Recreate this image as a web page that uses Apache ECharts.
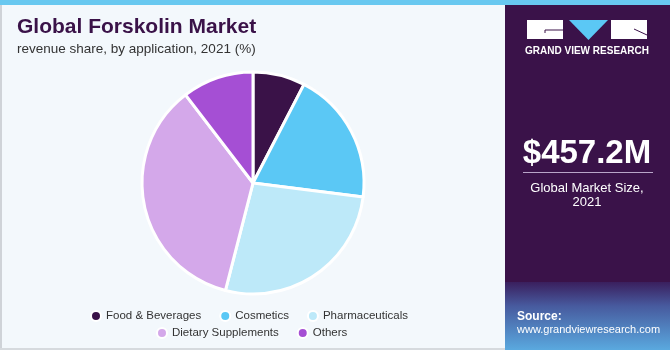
<!DOCTYPE html>
<html><head><meta charset="utf-8">
<script src="https://cdn.jsdelivr.net/npm/echarts@6/dist/echarts.min.js"></script>
<style>html,body{margin:0;padding:0;}#c{width:670px;height:350px;}</style>
</head><body><div id="c"></div>
<script>
var categories = ['Food & Beverages', 'Cosmetics', 'Pharmaceuticals', 'Dietary Supplements', 'Others'];
var shares = [7.6, 19.4, 27.0, 35.6, 10.4];
var colors = ['#3a1248', '#5bc8f5', '#bde9f9', '#d4a8ea', '#a54fd4'];
var legendRow1 = ['Food & Beverages', 'Cosmetics', 'Pharmaceuticals'];
var legendRow2 = ['Dietary Supplements', 'Others'];
var titleText = 'Global Forskolin Market';
var subtitleText = 'revenue share, by application, 2021 (%)';
var marketSize = '$457.2M';

var chart = echarts.init(document.getElementById('c'));
var data = categories.map(function (c, i) { return { name: c, value: shares[i], itemStyle: { color: colors[i] } }; });
var legendText = { fontFamily: 'Liberation Sans, Arial, sans-serif', fontSize: 11.5, color: '#333' };
chart.setOption({
  backgroundColor: '#f3f8fc',
  animation: false,
  legend: [
    { data: legendRow1, left: 85, top: 305, icon: 'circle', itemWidth: 10, itemHeight: 10, itemGap: 18, textStyle: legendText, selectedMode: false },
    { data: legendRow2, left: 151, top: 322, icon: 'circle', itemWidth: 10, itemHeight: 10, itemGap: 18, textStyle: legendText, selectedMode: false }
  ],
  series: [{
    type: 'pie', center: [253, 183], radius: [0, 111], startAngle: 90, clockwise: true,
    label: { show: false }, labelLine: { show: false },
    itemStyle: { borderColor: '#ffffff', borderWidth: 3 },
    emphasis: { disabled: true },
    data: data
  }],
  graphic: [
    { type: 'rect', shape: { x: 0, y: 0, width: 2, height: 350 }, style: { fill: '#cfd3d8' } },
    { type: 'rect', shape: { x: 0, y: 348, width: 670, height: 2 }, style: { fill: '#d6dade' } },
    { type: 'rect', shape: { x: 505, y: 0, width: 165, height: 350 }, style: { fill: '#3a1249' } },
    { type: 'rect', shape: { x: 505, y: 282, width: 165, height: 68 }, style: { fill: new echarts.graphic.LinearGradient(0, 0, 0, 1, [
      { offset: 0, color: '#3a1f5e' }, { offset: 0.35, color: '#475a9e' }, { offset: 1, color: '#5aa9df' }]) } },
    { type: 'rect', shape: { x: 0, y: 0, width: 670, height: 5 }, style: { fill: '#68c8f0' } },
    // logo
    { type: 'rect', shape: { x: 527, y: 20, width: 36, height: 19 }, style: { fill: '#ffffff' } },
    { type: 'polyline', shape: { points: [[545, 33], [545, 30], [563, 30]] }, style: { stroke: '#3a1249', lineWidth: 1, fill: null } },
    { type: 'polygon', shape: { points: [[569, 20], [608, 20], [588.5, 40]] }, style: { fill: '#5bc8f5' } },
    { type: 'rect', shape: { x: 611, y: 20, width: 36, height: 19 }, style: { fill: '#ffffff' } },
    { type: 'polyline', shape: { points: [[634, 29], [647, 35]] }, style: { stroke: '#3a1249', lineWidth: 1, fill: null } },
    { type: 'text', style: { text: 'GRAND VIEW RESEARCH', x: 587, y: 51, align: 'center', verticalAlign: 'middle', fill: '#ffffff', font: 'bold 10px Liberation Sans, Arial, sans-serif' } },
    // market size
    { type: 'text', style: { text: marketSize, x: 587, y: 154, align: 'center', verticalAlign: 'middle', fill: '#ffffff', font: 'bold 33px Liberation Sans, Arial, sans-serif' } },
    { type: 'rect', shape: { x: 523, y: 172, width: 130, height: 1 }, style: { fill: '#b9a5c9' } },
    { type: 'text', style: { text: 'Global Market Size,', x: 587, y: 188, align: 'center', verticalAlign: 'middle', fill: '#ffffff', font: '13px Liberation Sans, Arial, sans-serif' } },
    { type: 'text', style: { text: '2021', x: 587, y: 202, align: 'center', verticalAlign: 'middle', fill: '#ffffff', font: '13px Liberation Sans, Arial, sans-serif' } },
    // source
    { type: 'text', style: { text: 'Source:', x: 517, y: 317, align: 'left', verticalAlign: 'middle', fill: '#ffffff', font: 'bold 12px Liberation Sans, Arial, sans-serif' } },
    { type: 'text', style: { text: 'www.grandviewresearch.com', x: 517, y: 330, align: 'left', verticalAlign: 'middle', fill: '#ffffff', font: '11px Liberation Sans, Arial, sans-serif' } },
    // titles
    { type: 'text', style: { text: titleText, x: 17, y: 27, align: 'left', verticalAlign: 'middle', fill: '#3a1248', font: 'bold 21px Liberation Sans, Arial, sans-serif' } },
    { type: 'text', style: { text: subtitleText, x: 17, y: 49, align: 'left', verticalAlign: 'middle', fill: '#333333', font: '13.5px Liberation Sans, Arial, sans-serif' } }
  ]
});
</script></body></html>
